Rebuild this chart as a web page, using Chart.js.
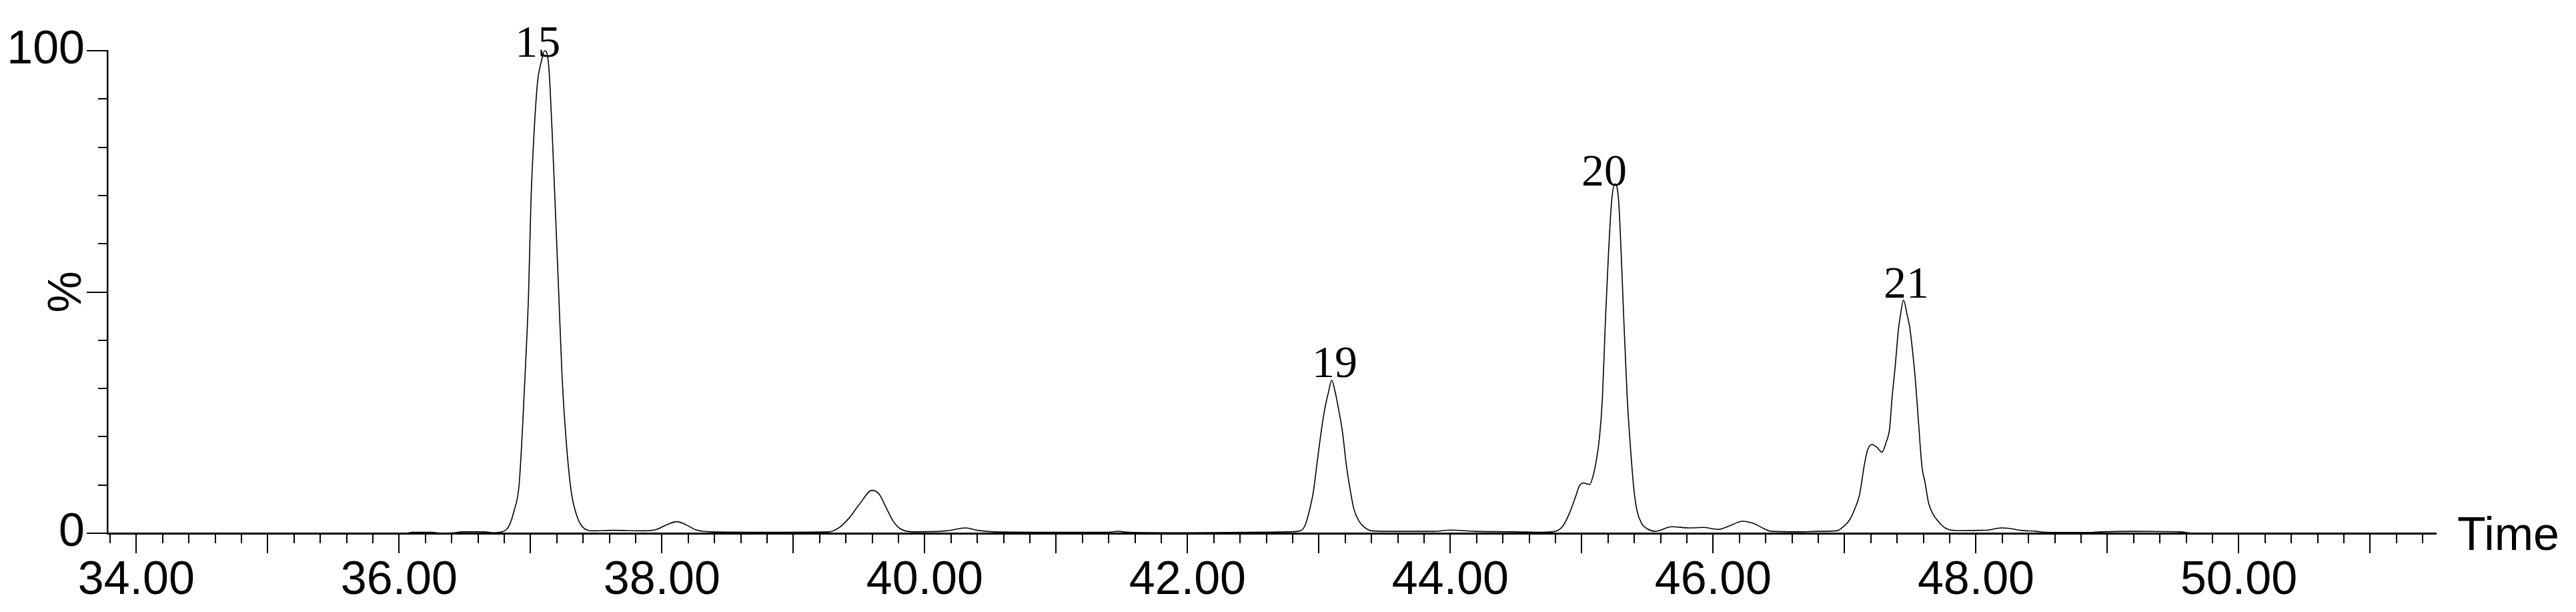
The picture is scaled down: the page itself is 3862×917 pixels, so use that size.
<!DOCTYPE html>
<html>
<head>
<meta charset="utf-8">
<script src="https://cdn.jsdelivr.net/npm/chart.js@4.4.0/dist/chart.umd.min.js"></script>
<style>
  html, body { margin: 0; padding: 0; background: #fff; }
  #wrap { width: 3862px; height: 917px; }
</style>
</head>
<body>
<div id="wrap"><canvas id="chrom" width="3862" height="917"></canvas></div>
<script>
// retention time (min) / relative intensity (%)
const times = [
  33.80, 35.00, 36.05, 36.10, 36.25, 36.32, 36.42, 36.48, 36.64, 36.72,
  36.785, 36.836, 36.874, 36.913, 36.94, 36.964, 36.985, 37.003, 37.028, 37.055,
  37.08, 37.108, 37.138, 37.164, 37.19, 37.215, 37.24, 37.272, 37.31, 37.354,
  37.40, 37.477, 37.63, 37.86, 37.96, 38.04, 38.113, 38.18, 38.26, 38.374,
  38.80, 39.27, 39.35, 39.426, 39.50, 39.60, 39.656, 39.708, 39.76, 39.81,
  39.91, 40.17, 40.31, 40.40, 40.53, 41.00, 41.40, 41.47, 41.55, 42.00,
  42.78, 42.858, 42.897, 42.926, 42.955, 42.984, 43.014, 43.043, 43.072, 43.097,
  43.12, 43.15, 43.179, 43.208, 43.237, 43.266, 43.305, 43.344, 43.40, 43.52,
  43.87, 44.00, 44.18, 44.49, 44.70, 44.797, 44.856, 44.907, 44.958, 44.983,
  45.017, 45.06, 45.084, 45.11, 45.135, 45.157, 45.18, 45.203, 45.228, 45.253,
  45.28, 45.30, 45.32, 45.346, 45.372, 45.397, 45.42, 45.456, 45.50, 45.557,
  45.684, 45.82, 45.92, 46.04, 46.12, 46.225, 46.31, 46.39, 46.44, 46.66,
  46.80, 46.94, 46.988, 47.039, 47.081, 47.115, 47.149, 47.174, 47.208, 47.25,
  47.284, 47.318, 47.343, 47.36, 47.385, 47.41, 47.424, 47.448, 47.478, 47.495,
  47.512, 47.537, 47.562, 47.588, 47.613, 47.639, 47.672, 47.715, 47.765, 47.85,
  48.02, 48.10, 48.19, 48.255, 48.34, 48.46, 48.525, 48.86, 48.96, 49.20,
  49.43, 49.55, 49.65, 49.90
];
const intensity = [
  0, 0, 0, 0.2, 0.2, 0, 0.1, 0.3, 0.3, 0.1,
  0.3, 1.5, 4.6, 10, 22.3, 35.9, 49.5, 68.5, 83.5, 93.9,
  97.5, 100, 97, 83.5, 66.5, 49.5, 32.5, 18.9, 8.6, 3.5,
  1.2, 0.5, 0.6, 0.5, 0.8, 1.8, 2.4, 1.8, 0.7, 0.3,
  0.2, 0.3, 1.2, 3.2, 5.9, 8.9, 8, 5.2, 2.5, 1,
  0.3, 0.5, 1.1, 0.6, 0.3, 0.2, 0.2, 0.4, 0.2, 0.1,
  0.3, 0.5, 1.8, 4.6, 8.2, 14.2, 20.5, 25.6, 29.2, 31.7,
  29.7, 25.6, 21, 14.2, 9.1, 5, 2.5, 1.3, 0.5, 0.4,
  0.4, 0.65, 0.4, 0.3, 0.2, 0.4, 1.5, 4.2, 8, 9.9,
  10.4, 10.1, 11.7, 15, 19.9, 28, 44.2, 57.8, 69.1, 72.4,
  69.1, 57.8, 44.2, 28, 17.2, 9, 4.7, 2, 0.9, 0.4,
  1.35, 1.1, 1.2, 0.8, 1.5, 2.5, 2, 0.9, 0.4, 0.3,
  0.4, 0.5, 1.3, 2.8, 5.3, 8.1, 14, 17.2, 18.4, 17.7,
  16.8, 19, 21.8, 27.7, 34.6, 42.3, 45, 48.3, 45, 42.8,
  39.1, 32.3, 23.2, 14, 10.4, 6.3, 4, 2.4, 1.1, 0.55,
  0.6, 0.7, 1.1, 1, 0.6, 0.4, 0.2, 0.15, 0.3, 0.4,
  0.35, 0.3, 0, 0
];

// peak annotations
const peakNames = ['15', '19', '20', '21'];
const peakLabelTimes = [37.055, 43.12, 45.17, 47.47];
const peakLabelLevels = [98.8, 32.3, 72.0, 48.8];

// labelled ticks
const xLabelTimes = [34, 36, 38, 40, 42, 44, 46, 48, 50];
const yLabelValues = [0, 100];

const points = times.map((t, i) => ({ x: t, y: intensity[i] }));

// tick marks, "Time" and peak numbers
const axisMarks = {
  id: 'axisMarks',
  afterDraw(chart) {
    const { ctx, scales: { x, y } } = chart;
    ctx.save();
    ctx.strokeStyle = '#000';
    ctx.lineWidth = 2;
    ctx.beginPath();
    x.ticks.forEach(t => {
      const px = Math.round(x.getPixelForValue(t.value));
      const major = Math.abs(t.value - Math.round(t.value)) < 1e-6;
      ctx.moveTo(px, x.top);
      ctx.lineTo(px, x.top + (major ? 30 : 15));
    });
    y.ticks.forEach(t => {
      const py = Math.round(y.getPixelForValue(t.value));
      const major = Math.round(t.value) % 50 === 0;
      ctx.moveTo(y.right, py);
      ctx.lineTo(y.right - (major ? 31 : 14), py);
    });
    ctx.stroke();

    ctx.fillStyle = '#000';
    ctx.font = '70px "Liberation Sans"';
    ctx.textAlign = 'left';
    ctx.textBaseline = 'alphabetic';
    ctx.fillText('Time', x.right + 32, x.top + 25);

    ctx.font = '68px "Liberation Serif"';
    ctx.textAlign = 'center';
    peakNames.forEach((n, i) => {
      ctx.fillText(n, x.getPixelForValue(peakLabelTimes[i]), y.getPixelForValue(peakLabelLevels[i]));
    });
    ctx.restore();
  }
};

new Chart(document.getElementById('chrom'), {
  type: 'line',
  data: {
    datasets: [{
      data: points,
      borderColor: '#000',
      borderWidth: 1.6,
      pointRadius: 0,
      fill: false,
      cubicInterpolationMode: 'monotone',
      clip: false
    }]
  },
  options: {
    responsive: false,
    animation: false,
    layout: { padding: { top: 69, right: 210, bottom: 0, left: 0 } },
    plugins: { legend: { display: false }, tooltip: { enabled: false } },
    scales: {
      x: {
        type: 'linear',
        min: 33.78,
        max: 51.5,
        grid: { display: false, drawTicks: false },
        border: { display: true, color: '#000', width: 3 },
        ticks: {
          stepSize: 0.2,
          includeBounds: false,
          autoSkip: false,
          maxRotation: 0,
          padding: 30,
          color: '#000',
          font: { family: 'Liberation Sans', size: 70 },
          callback: v => xLabelTimes.some(t => Math.abs(t - v) < 1e-6) ? v.toFixed(2) : ''
        },
        afterFit(s) { s.height = 118; }
      },
      y: {
        min: 0,
        max: 100,
        grid: { display: false, drawTicks: false },
        border: { display: true, color: '#000', width: 2.5 },
        ticks: {
          stepSize: 10,
          autoSkip: false,
          padding: 34,
          color: '#000',
          font: { family: 'Liberation Sans', size: 70 },
          callback: v => yLabelValues.includes(v) ? String(v) : ''
        },
        title: {
          display: true,
          text: '%',
          color: '#000',
          padding: { top: 60, bottom: 0 },
          font: { family: 'Liberation Sans', size: 70 }
        },
        afterFit(s) { s.width = 161; }
      }
    }
  },
  plugins: [axisMarks]
});
</script>
</body>
</html>
